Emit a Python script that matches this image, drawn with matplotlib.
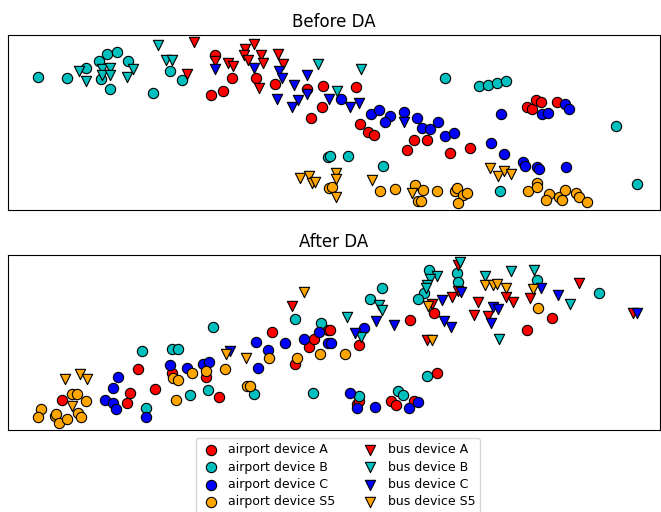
import matplotlib
matplotlib.use("Agg")
import matplotlib.pyplot as plt

# positions (x right, y down), one list per device/domain
labels = ["airport device A", "airport device B", "airport device C", "airport device S5",
          "bus device A", "bus device B", "bus device C", "bus device S5"]
colors = ["r", "c", "b", "orange", "r", "c", "b", "orange"]
markers = ["o", "o", "o", "o", "v", "v", "v", "v"]

before_air_A = [(215, 55), (232, 78), (256, 78), (211, 95), (223, 91), (275, 84), (307, 89),
                (323, 86), (322, 107), (311, 118), (356, 87), (360, 124), (368, 132), (374, 135),
                (414, 140), (427, 140), (407, 150), (450, 153), (470, 148), (527, 107),
                (532, 109), (536, 100), (541, 102), (557, 102)]
before_air_B = [(38, 77), (67, 78), (86, 68), (99, 61), (107, 54), (117, 52), (128, 61),
                (101, 79), (110, 89), (153, 93), (170, 71), (182, 80), (328, 157), (330, 156),
                (348, 156), (383, 166), (445, 78), (479, 86), (488, 85), (497, 83), (506, 81),
                (616, 126), (637, 184), (500, 191)]
before_air_C = [(341, 99), (371, 114), (379, 110), (390, 116), (385, 122), (404, 112),
                (417, 118), (422, 128), (430, 129), (438, 122), (445, 136), (454, 133),
                (501, 114), (491, 143), (504, 154), (523, 162), (525, 166), (537, 167),
                (539, 169), (542, 114), (548, 113), (565, 104), (569, 109), (566, 167)]
before_air_S5 = [(329, 188), (332, 187), (380, 191), (395, 189), (415, 185), (423, 190),
                 (418, 201), (421, 201), (437, 191), (455, 191), (457, 188), (463, 195),
                 (467, 193), (458, 203), (528, 191), (537, 183), (537, 187), (549, 194),
                 (546, 200), (559, 197), (562, 200), (565, 190), (576, 193), (579, 197),
                 (587, 202)]
before_bus_A = [(194, 42), (187, 74), (215, 61), (228, 63), (233, 66), (245, 49), (254, 44),
                (244, 55), (248, 60), (261, 55), (263, 63), (278, 54), (283, 64), (259, 88)]
before_bus_B = [(79, 71), (86, 81), (102, 69), (110, 68), (102, 75), (110, 75), (133, 69),
                (127, 77), (158, 45), (166, 60), (172, 60), (318, 64), (361, 69), (337, 91)]
before_bus_C = [(215, 69), (254, 68), (279, 71), (282, 78), (277, 99), (294, 85), (298, 100),
                (292, 107), (307, 75), (307, 94), (329, 99), (350, 107), (359, 103), (404, 122)]
before_bus_S5 = [(300, 178), (309, 176), (312, 183), (315, 182), (336, 173), (336, 179),
                 (336, 197), (372, 180), (412, 193), (490, 168), (498, 176), (504, 171),
                 (511, 174)]

after_air_A = [(62, 400), (127, 403), (130, 393), (138, 369), (155, 389), (172, 373),
               (206, 377), (219, 397), (272, 332), (295, 364), (309, 347), (314, 339),
               (328, 330), (330, 330), (359, 345), (410, 320), (434, 313), (527, 330),
               (552, 318), (437, 373), (357, 404), (359, 401), (391, 401), (396, 405),
               (414, 401)]
after_air_B = [(142, 351), (172, 349), (178, 349), (213, 327), (190, 395), (208, 390),
               (254, 394), (295, 319), (321, 323), (313, 393), (146, 408), (429, 270),
               (457, 273), (458, 282), (424, 293), (418, 299), (382, 288), (370, 299),
               (537, 280), (599, 293), (427, 376), (398, 391), (403, 395), (359, 396)]
after_air_C = [(105, 400), (113, 403), (116, 409), (113, 388), (118, 377), (146, 417),
               (170, 365), (187, 368), (203, 364), (209, 362), (256, 342), (268, 350),
               (258, 368), (285, 343), (304, 339), (319, 332), (328, 343), (364, 328),
               (331, 343), (350, 393), (357, 408), (375, 407), (409, 408), (418, 402)]
after_air_S5 = [(41, 409), (38, 417), (55, 416), (56, 414), (59, 423), (67, 419), (72, 394),
                (77, 394), (86, 401), (78, 413), (81, 417), (173, 378), (178, 380), (192, 373),
                (206, 371), (225, 369), (176, 400), (247, 386), (250, 386), (269, 358),
                (297, 358), (320, 354), (538, 308), (345, 354)]
after_bus_A = [(292, 306), (458, 265), (458, 291), (452, 297), (432, 304), (478, 302),
               (474, 315), (488, 316), (506, 297), (513, 302), (530, 298), (579, 283),
               (427, 340), (633, 313)]
after_bus_B = [(460, 262), (437, 276), (430, 279), (427, 285), (426, 288), (485, 276),
               (511, 271), (534, 270), (379, 305), (382, 310), (347, 317), (361, 337),
               (499, 339), (570, 304)]
after_bus_C = [(230, 351), (461, 292), (442, 300), (444, 321), (451, 327), (493, 307),
               (498, 309), (491, 323), (541, 288), (558, 295), (376, 321), (394, 325),
               (355, 333), (637, 313)]
after_bus_S5 = [(65, 379), (80, 374), (87, 379), (72, 406), (226, 354), (246, 358),
                (304, 292), (485, 285), (493, 285), (497, 284), (506, 288), (533, 289),
                (428, 306), (432, 340)]

before = [before_air_A, before_air_B, before_air_C, before_air_S5,
          before_bus_A, before_bus_B, before_bus_C, before_bus_S5]
after = [after_air_A, after_air_B, after_air_C, after_air_S5,
         after_bus_A, after_bus_B, after_bus_C, after_bus_S5]

fig = plt.figure(figsize=(6.61, 5.12), dpi=100)
ax1 = fig.add_axes([8 / 661, 1 - 210 / 512, 652 / 661, 175 / 512])
ax2 = fig.add_axes([8 / 661, 1 - 430 / 512, 652 / 661, 175 / 512])

for ax, groups, title, ylim in [(ax1, before, "Before DA", (210, 35)),
                                (ax2, after, "After DA", (430, 255))]:
    for pts, c, m, lab in zip(groups, colors, markers, labels):
        xs = [p[0] for p in pts]
        ys = [p[1] for p in pts]
        ax.scatter(xs, ys, c=c, marker=m, s=55, edgecolors="k", linewidths=0.8, label=lab)
    ax.set_xlim(8, 660)
    ax.set_ylim(*ylim)
    ax.set_xticks([])
    ax.set_yticks([])
    ax.set_title(title, fontsize=12)

handles, labs = ax1.get_legend_handles_labels()
fig.legend(handles, labs, loc="upper center", bbox_to_anchor=(338 / 661, 1 - 432 / 512),
           ncol=2, fontsize=9, handletextpad=0.6, columnspacing=2.0, labelspacing=0.35,
           handlelength=1.6)

fig.savefig("out.png", dpi=100)
